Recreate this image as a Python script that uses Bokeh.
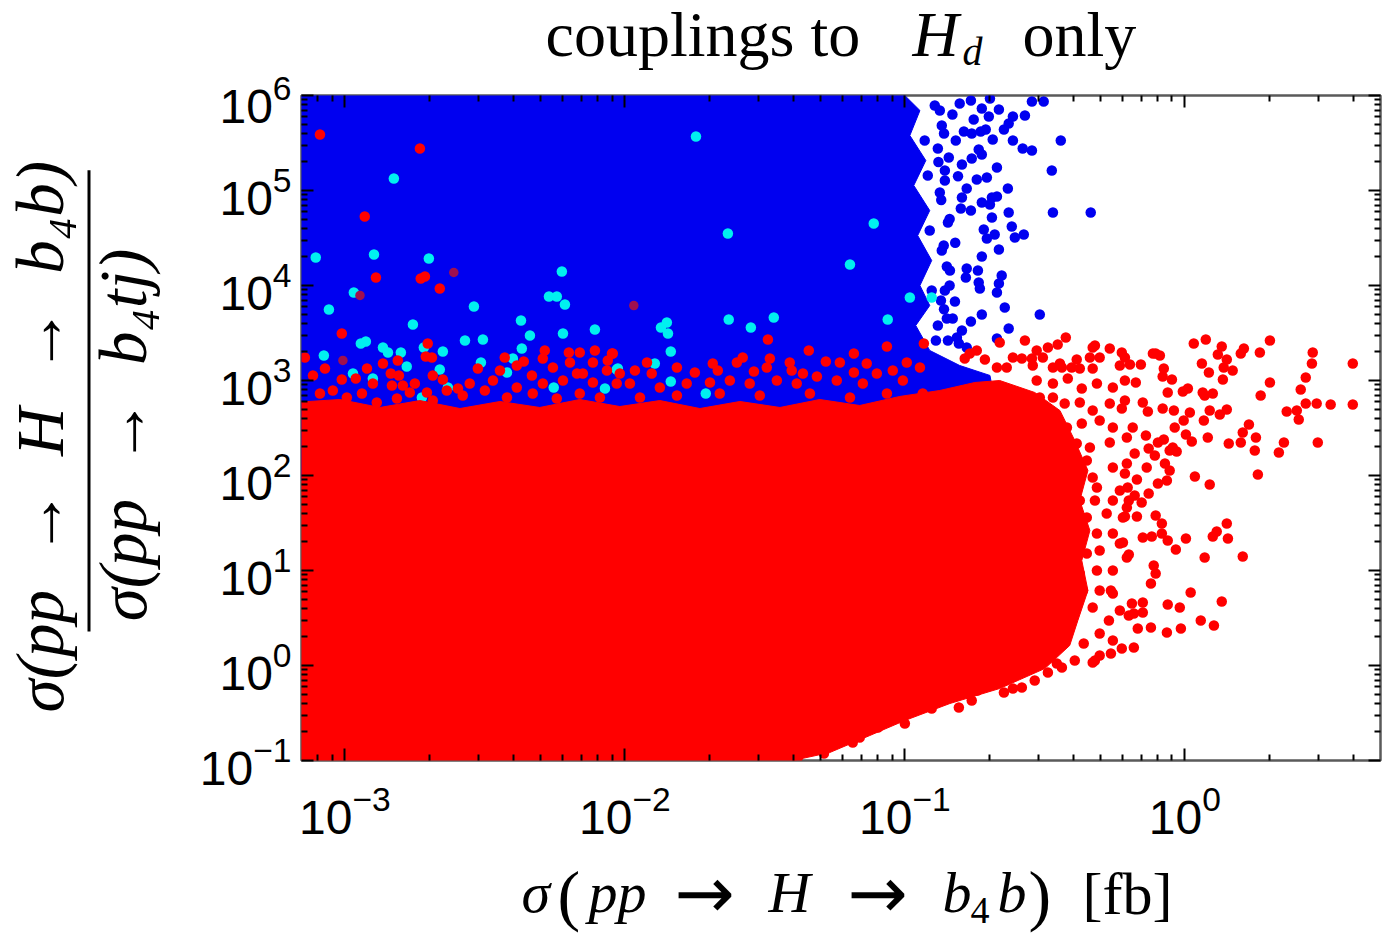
import numpy as np
from bokeh.plotting import figure
from bokeh.layouts import column, row
from bokeh.models import (Range1d, LogAxis, FixedTicker, Label, CustomJSTickFormatter)
from bokeh.embed import file_html
from bokeh.resources import INLINE

# ---------------- data (log10 of the plotted quantities) ----------------
x_limits = (7e-4, 5.0)
y_limits = (1e-1, 1e6)
x_major_ticks = [1e-3, 1e-2, 1e-1, 1e0]
y_major_ticks = [1e-1, 1e0, 1e1, 1e2, 1e3, 1e4, 1e5, 1e6]
minor_multipliers = [2, 3, 4, 5, 6, 7, 8, 9]

# dense (fully covered) part of the blue cloud: outline, log10(x), log10(y)
blue_area_lx = [-3.3, -1.0, -1.0, -0.946, -0.982, -0.925, -0.968, -0.911, -0.954, -0.904,
                -0.946, -0.911, -0.961, -0.911, -0.804, -0.696, -0.679, -0.714, -0.804,
                -0.911, -3.3]
blue_area_ly = [6.2, 6.2, 6.0, 5.842, 5.579, 5.316, 5.053, 4.789, 4.526, 4.263,
                4.0, 3.789, 3.579, 3.316, 3.158, 3.053, 2.789, 2.474, 2.158,
                1.947, 1.947]

# dense part of the red cloud: outline
red_area_lx = [-3.3, -3.018, -2.875, -2.732, -2.589, -2.446, -2.304, -2.161, -2.018, -1.875,
               -1.732, -1.589, -1.446, -1.304, -1.161, -1.018, -0.875, -0.75, -0.661,
               -0.536, -0.446, -0.393, -0.346, -0.375, -0.339, -0.368, -0.346, -0.382,
               -0.411, -0.5, -0.661, -0.839, -1.0, -1.125, -1.268, -1.40,
               -1.45, -3.3]
red_area_ly = [2.747, 2.8, 2.716, 2.789, 2.705, 2.779, 2.716, 2.8, 2.726, 2.789,
               2.705, 2.779, 2.716, 2.8, 2.737, 2.832, 2.895, 2.979, 3.0,
               2.874, 2.684, 2.368, 2.053, 1.737, 1.421, 1.105, 0.789, 0.474,
               0.211, -0.032, -0.242, -0.4, -0.579, -0.737, -0.916, -1.0,
               -1.2, -1.2]

# individual blue points outside the dense area
blue_points = [
    (-0.804, 5.916), (-0.764, 5.947), (-0.725, 5.863), (-0.696, 5.968), (-0.546, 5.937),
    (-0.504, 5.937), (-0.664, 5.853), (-0.7, 5.779), (-0.754, 5.747), (-0.789, 5.621),
    (-0.761, 5.6), (-0.729, 5.621), (-0.711, 5.642), (-0.686, 5.537), (-0.646, 5.642),
    (-0.629, 5.705), (-0.614, 5.779), (-0.571, 5.789), (-0.614, 5.526), (-0.579, 5.442),
    (-0.546, 5.421), (-0.443, 5.526), (-0.818, 5.526), (-0.843, 5.347), (-0.796, 5.274),
    (-0.761, 5.337), (-0.736, 5.432), (-0.725, 5.379), (-0.671, 5.242), (-0.475, 5.211),
    (-0.743, 5.116), (-0.707, 5.137), (-0.632, 5.021), (-0.779, 5.021), (-0.796, 4.926),
    (-0.689, 4.926), (-0.671, 4.937), (-0.725, 4.874), (-0.696, 4.853), (-0.8, 4.811),
    (-0.764, 4.789), (-0.629, 4.768), (-0.471, 4.768), (-0.336, 4.768), (-0.689, 4.716),
    (-0.718, 4.589), (-0.679, 4.537), (-0.707, 4.495), (-0.664, 4.379), (-0.618, 4.621),
    (-0.607, 4.505), (-0.575, 4.537), (-0.725, 4.305), (-0.739, 4.158), (-0.779, 4.179),
    (-0.782, 4.084), (-0.654, 4.105), (-0.664, 4.021), (-0.671, 3.926), (-0.736, 4.032),
    (-0.732, 3.968), (-0.821, 3.832), (-0.643, 3.768), (-0.725, 3.695), (-0.764, 3.621),
    (-0.796, 3.526), (-0.629, 3.547), (-0.518, 3.695), (-0.671, 3.442), (-0.829, 3.653),
    (-0.807, 3.389), (-0.779, 3.347), (-0.814, 3.453), (-0.846, 3.421), (-0.875, 5.842),
    (-0.857, 5.105), (-0.868, 4.368), (-0.857, 3.947), (-0.882, 3.579), (-0.86, 5.6),
    (-0.84, 4.7), (-0.85, 4.2), (-0.83, 5.8), (-0.88, 5.3), (-0.87, 4.9), (-0.86, 3.75),
    (-0.82, 4.45), (-0.84, 4.0), (-0.81, 5.15),
    (-0.893, 5.895), (-0.868, 5.684), (-0.882, 5.442), (-0.857, 5.211), (-0.875, 4.979),
    (-0.846, 4.663), (-0.861, 4.421), (-0.839, 4.158), (-0.871, 3.842), (-0.85, 3.653),
    (-0.889, 3.421), (-0.929, 5.526), (-0.918, 5.158), (-0.911, 4.579), (-0.904, 3.947),
]

cyan_points = [
    (-2.825, 5.126), (-3.104, 4.295), (-2.896, 4.326), (-2.7, 4.284), (-2.968, 3.926),
    (-3.057, 3.747), (-2.539, 3.779), (-2.225, 4.147), (-2.271, 3.884), (-2.243, 3.884),
    (-2.214, 3.8), (-2.757, 3.589), (-2.371, 3.632), (-2.571, 3.421), (-2.507, 3.432),
    (-2.339, 3.474), (-2.221, 3.495), (-2.107, 3.537), (-1.871, 3.558), (-1.85, 3.611),
    (-1.846, 3.495), (-1.836, 3.305), (-2.65, 3.305), (-2.368, 3.337), (-2.943, 3.389),
    (-2.925, 3.411), (-2.864, 3.347), (-2.846, 3.295), (-2.8, 3.295), (-3.075, 3.263),
    (-2.718, 3.347), (-1.746, 5.568), (-2.514, 3.189), (-2.779, 3.147), (-2.4, 3.232),
    (-1.632, 4.547), (-1.111, 4.653), (-1.196, 4.221), (-1.629, 3.642), (-1.55, 3.558),
    (-1.468, 3.663), (-1.061, 3.642), (-0.982, 3.874), (-0.904, 3.874), (-1.711, 2.863),
    (-2.971, 3.074), (-2.9, 3.021), (-2.661, 3.116), (-2.029, 3.116), (-2.421, 3.084),
    (-2.632, 2.926), (-2.725, 2.821), (-2.254, 2.926), (-2.071, 2.916), (-1.893, 3.179),
    (-2.025, 3.126), (-1.836, 2.989),
]

dark_red_points = [(-2.611, 4.137), (-2.946, 3.895), (-1.968, 3.789), (-3.007, 3.211)]

red_points = [
    # isolated red points inside the blue cloud
    (-3.089, 5.589), (-2.732, 5.442), (-2.929, 4.726), (-2.889, 4.084), (-2.729, 4.074),
    (-2.714, 4.095), (-2.661, 3.968), (-3.011, 3.495), (-2.704, 3.389), (-2.711, 3.253),
    (-2.689, 3.242), (-1.489, 3.432), (-1.343, 3.316), (-0.932, 3.389),
    # upper fringe of the red cloud
    (-3.143, 3.242), (-3.114, 3.053), (-3.071, 3.126), (-2.921, 3.126), (-2.864, 3.179),
    (-2.811, 3.211), (-2.836, 3.074), (-2.807, 3.053), (-3.011, 3.011), (-2.961, 3.021),
    (-2.9, 2.968), (-2.832, 2.947), (-2.793, 2.947), (-2.75, 2.968), (-2.686, 3.053),
    (-2.65, 3.011), (-2.596, 2.916), (-2.554, 2.968), (-2.525, 3.126), (-2.446, 3.105),
    (-2.429, 3.242), (-2.386, 3.158), (-2.361, 3.2), (-2.332, 3.053), (-2.286, 3.316),
    (-2.293, 3.232), (-2.257, 3.137), (-2.2, 3.295), (-2.196, 3.189), (-2.161, 3.295),
    (-2.107, 3.316), (-2.114, 3.189), (-2.046, 3.284), (-2.061, 3.211), (-2.171, 3.074),
    (-2.15, 3.074), (-2.064, 3.105), (-2.471, 3.0), (-2.386, 2.926), (-2.293, 2.968),
    (-2.221, 3.0), (-2.114, 2.979), (-3.089, 2.863), (-3.043, 2.895), (-2.993, 2.821),
    (-2.939, 2.863), (-2.886, 2.768), (-2.814, 2.811), (-2.768, 2.874), (-2.707, 2.874),
    (-2.686, 2.789), (-2.636, 2.895), (-2.579, 2.842), (-2.5, 2.895), (-2.421, 2.821),
    (-2.329, 2.863), (-2.243, 2.811), (-2.161, 2.863), (-2.089, 2.821), (-2.029, 2.968),
    (-1.064, 3.358), (-2.043, 3.284), (-2.018, 3.074), (-1.964, 3.105), (-1.921, 3.189),
    (-1.904, 3.074), (-1.814, 3.137), (-1.75, 3.084), (-1.686, 3.179), (-1.668, 3.105),
    (-1.6, 3.189), (-1.579, 3.242), (-1.539, 3.095), (-1.482, 3.232), (-1.493, 3.137),
    (-1.411, 3.189), (-1.404, 3.105), (-1.364, 3.074), (-1.282, 3.2), (-1.232, 3.189),
    (-1.182, 3.284), (-1.182, 3.084), (-1.136, 3.179), (-1.1, 3.074), (-1.043, 3.105),
    (-0.993, 3.189), (-0.946, 3.137), (-1.314, 3.042), (-1.243, 3.0), (-1.15, 2.968),
    (-1.007, 3.0), (-0.936, 2.863), (-1.982, 2.968), (-1.875, 2.926), (-1.779, 2.968),
    (-1.696, 2.979), (-1.625, 3.0), (-1.554, 2.968), (-1.457, 3.0), (-1.386, 2.968),
    (-1.946, 2.821), (-1.814, 2.842), (-1.661, 2.863), (-1.518, 2.842), (-1.339, 2.863),
    (-1.196, 2.821), (-1.064, 2.863),
    # scattered tail at large cross section
    (-0.661, 3.4), (-0.571, 3.421), (-0.425, 3.453), (-0.454, 3.379), (-0.489, 3.347),
    (-0.529, 3.316), (-0.507, 3.242), (-0.329, 3.347), (-0.268, 3.337), (-0.225, 3.295),
    (-0.743, 3.316), (-0.768, 3.284), (-0.786, 3.232), (-0.714, 3.221), (-0.614, 3.242),
    (-0.582, 3.232), (-0.546, 3.232), (-0.386, 3.221), (-0.339, 3.242), (-0.304, 3.242),
    (-0.214, 3.242), (-0.404, 3.137), (-0.446, 3.179), (-0.471, 3.137), (-0.636, 3.137),
    (-0.671, 3.137), (-0.375, 3.126), (-0.321, 3.368), (-0.104, 3.284),
    (-0.543, 3.158), (-0.439, 3.137), (-0.329, 3.126), (-0.232, 3.158), (-0.529, 3.0),
    (-0.471, 2.968), (-0.418, 3.021), (-0.368, 2.916), (-0.314, 2.968), (-0.257, 2.926),
    (-0.214, 3.0), (-0.518, 2.821), (-0.471, 2.821), (-0.429, 2.758), (-0.375, 2.768),
    (-0.329, 2.684), (-0.268, 2.758), (-0.225, 2.705), (-0.518, 2.653), (-0.471, 2.6),
    (-0.421, 2.505), (-0.368, 2.547), (-0.304, 2.579), (-0.257, 2.505), (-0.207, 2.4),
    (-0.507, 2.442), (-0.446, 2.368), (-0.386, 2.337), (-0.339, 2.295), (-0.268, 2.347),
    (-0.529, 2.263), (-0.471, 2.189), (-0.411, 2.158), (-0.35, 2.158), (-0.257, 2.084),
    (-0.214, 2.021), (-0.507, 2.053), (-0.446, 1.979), (-0.4, 1.916), (-0.329, 1.979),
    (-0.314, 1.874), (-0.232, 1.842), (-0.493, 1.874), (-0.446, 1.768), (-0.375, 1.737),
    (-0.321, 1.737), (-0.257, 1.737), (-0.207, 1.663), (-0.471, 1.632), (-0.411, 1.6),
    (-0.35, 1.558), (-0.279, 1.6), (-0.221, 1.558), (-0.493, 1.453), (-0.421, 1.453),
    (-0.375, 1.347), (-0.314, 1.389), (-0.257, 1.389), (-0.232, 1.284), (-0.457, 1.242),
    (-0.4, 1.211), (-0.35, 1.179), (-0.304, 1.211), (-0.446, 1.032), (-0.375, 0.968),
    (-0.314, 1.0), (-0.257, 1.0), (-0.421, 0.863), (-0.364, 0.789), (-0.304, 0.789),
    (-0.257, 0.758), (-0.4, 0.684), (-0.329, 0.611), (-0.207, 1.137),
    (0.032, 3.389), (0.075, 3.432), (0.132, 3.358), (0.061, 3.179), (0.086, 3.084),
    (0.118, 3.274), (0.15, 3.221), (0.139, 3.137), (0.171, 3.105), (0.136, 3.011),
    (0.2, 3.284), (0.211, 3.337), (0.268, 3.295), (0.304, 3.421), (0.457, 3.295),
    (0.454, 3.179), (0.6, 3.179), (0.432, 3.032), (0.304, 2.979), (0.414, 2.905),
    (0.271, 2.842), (0.432, 2.758), (0.471, 2.758), (0.521, 2.747), (0.6, 2.747),
    (0.364, 2.674), (0.4, 2.684), (0.407, 2.589), (0.475, 2.347), (0.354, 2.347),
    (0.336, 2.242), (0.25, 2.263), (0.254, 2.4), (0.229, 2.537), (0.207, 2.453),
    (0.2, 2.347), (0.157, 2.337), (0.261, 2.011), (0.15, 2.695), (0.125, 2.642),
    (0.089, 2.684), (0.068, 2.579), (0.082, 2.4), (0.071, 2.842), (0.1, 2.863),
    (0.064, 2.874), (0.025, 2.358), (0.036, 1.989), (0.089, 1.905), (0.15, 1.495),
    (0.114, 1.411), (0.1, 1.358), (0.154, 1.337), (0.207, 1.147), (0.071, 1.137),
    (0.004, 1.337), (-0.032, 1.221), (0.021, 0.768), (0.132, 0.674), (-0.018, 0.611),
    (-0.061, 0.642), (0.057, 0.474), (0.011, 2.916), (-0.007, 2.884), (-0.061, 2.874),
    (-0.046, 3.011), (-0.079, 3.042), (-0.114, 3.284), (-0.089, 3.263), (-0.075, 3.126),
    (-0.157, 3.168), (-0.196, 3.168), (-0.175, 2.979), (-0.15, 2.768), (-0.214, 2.789),
    (-0.132, 2.674), (-0.079, 2.705), (-0.039, 2.684), (-0.004, 2.579), (0.018, 2.663),
    (-0.036, 2.505), (0.004, 2.432), (-0.075, 2.379), (-0.096, 2.347), (-0.139, 2.421),
    (-0.186, 2.505), (-0.129, 2.284), (-0.179, 2.232), (-0.043, 2.295), (-0.029, 2.253),
    (-0.054, 2.263), (-0.107, 2.211), (-0.071, 2.126), (-0.054, 2.053), (-0.136, 2.084),
    (-0.207, 2.126), (-0.171, 1.958), (-0.096, 1.916), (-0.064, 1.947), (-0.204, 1.874),
    (-0.129, 1.811), (-0.179, 1.789), (-0.154, 1.716), (-0.2, 1.737), (-0.214, 1.568),
    (-0.171, 1.568), (-0.104, 1.579), (-0.082, 1.495), (-0.082, 1.389), (-0.118, 1.358),
    (-0.15, 1.347), (-0.061, 1.316), (-0.221, 1.295), (-0.2, 1.168), (-0.111, 1.053),
    (-0.104, 0.968), (-0.121, 0.863), (-0.189, 0.653), (-0.15, 0.663), (-0.15, 0.558),
    (-0.2, 0.526),
    # lower-right edge of the red cloud
    (-0.329, 0.032), (-0.264, 0.126), (-0.225, 0.179), (-0.182, 0.189), (-0.168, 0.389),
    (-0.121, 0.4), (-0.064, 0.347), (-0.014, 0.389), (0.104, 0.421), (-0.182, 0.547),
    (-0.232, 0.579), (-0.271, 0.474), (-0.304, 0.337), (-0.361, 0.232), (-0.264, 0.789),
    (-0.646, -0.284), (-0.582, -0.232), (-0.536, -0.158), (-0.489, -0.074), (-0.439, -0.021),
    (-0.393, 0.053), (-0.321, 0.053), (-0.761, -0.368), (-0.807, -0.442), (-0.904, -0.453),
    (-1.0, -0.611), (-1.096, -0.653), (-1.161, -0.758), (-1.289, -0.926), (-1.382, -0.968),
    (-0.457, 0.021), (-0.304, 0.105), (-0.257, 0.263), (-0.741, -0.263), (-0.614, -0.242),
    (-0.946, -0.453), (-1.186, -0.811), (-1.089, -0.632),
]

# texts
title_pieces = [("couplings to", "normal"), ("H", "italic"), ("d", "italic"), ("only", "normal")]
xlabel_pieces = ["σ", "(", "pp", "→", "H", "→", "b", "4", "b", ")", "[fb]"]
ylabel_numerator = "σ(pp\u2002→\u2002H\u2002→\u2002b\u2084b)"
ylabel_denominator = "σ(pp\u2002→\u2002b\u2084tj)"

BLUE = "#0000F0"
RED = "#FF0000"
CYAN = "#00F0F0"
DARK_RED = "#A0104E"
SERIF = "Liberation Serif"
ARROW_FONT = "DejaVu Sans"
POINT_SIZE = 10.5


def unzip_log(pairs):
    lx, ly = zip(*pairs)
    return 10.0 ** np.array(lx), 10.0 ** np.array(ly)


def minor_ticks(lo, hi):
    out = []
    for d in range(-5, 7):
        for m in minor_multipliers:
            v = m * 10.0 ** d
            if lo < v < hi:
                out.append(v)
    return out


# ---------------- main plot ----------------
p = figure(x_axis_type="log", y_axis_type="log",
           x_range=Range1d(*x_limits), y_range=Range1d(*y_limits),
           frame_width=1079, frame_height=665,
           min_border_left=121, min_border_right=9, min_border_top=19, min_border_bottom=90,
           output_backend="svg", toolbar_location=None, title=None,
           background_fill_color="white", border_fill_color="white")
p.grid.visible = False
p.outline_line_color = "#5a5a5a"
p.outline_line_width = 2.5

bottom_axis = p.below[0]
left_axis = p.left[0]

p.patch(10.0 ** np.array(blue_area_lx), 10.0 ** np.array(blue_area_ly),
        fill_color=BLUE, line_color=BLUE, line_width=1)
bx, by = unzip_log(blue_points)
p.scatter(bx, by, size=POINT_SIZE, fill_color=BLUE, line_color=None)
cx, cy = unzip_log(cyan_points)
p.scatter(cx, cy, size=POINT_SIZE, fill_color=CYAN, line_color=None)
p.patch(10.0 ** np.array(red_area_lx), 10.0 ** np.array(red_area_ly),
        fill_color=RED, line_color=RED, line_width=1)
rx, ry = unzip_log(red_points)
p.scatter(rx, ry, size=POINT_SIZE, fill_color=RED, line_color=None)
dx, dy = unzip_log(dark_red_points)
p.scatter(dx, dy, size=POINT_SIZE - 1, fill_color=DARK_RED, line_color=None)

x_ticker = FixedTicker(ticks=x_major_ticks, minor_ticks=minor_ticks(*x_limits))
y_ticker = FixedTicker(ticks=y_major_ticks, minor_ticks=minor_ticks(*y_limits))

top_axis = LogAxis(formatter=CustomJSTickFormatter(code="return ''"))
right_axis = LogAxis(formatter=CustomJSTickFormatter(code="return ''"))
p.add_layout(top_axis, "above")
p.add_layout(right_axis, "right")

for ax, tk in [(bottom_axis, x_ticker), (top_axis, x_ticker),
               (left_axis, y_ticker), (right_axis, y_ticker)]:
    ax.ticker = tk
    ax.axis_line_color = None
    ax.major_tick_in = 12
    ax.major_tick_out = 0
    ax.minor_tick_in = 6
    ax.minor_tick_out = 0
    ax.major_tick_line_width = 2
    ax.minor_tick_line_width = 2
    ax.major_tick_line_color = "black"
    ax.minor_tick_line_color = "black"

for ax in (top_axis, right_axis):
    ax.major_label_standoff = 0
    ax.major_label_text_font_size = "0px"

for ax, standoff in [(bottom_axis, 24), (left_axis, 10)]:
    ax.major_label_text_font = "Liberation Sans"
    ax.major_label_text_font_size = "48px"
    ax.major_label_text_color = "black"
    ax.major_label_standoff = standoff


# ---------------- text panels ----------------
def text_panel(w, h):
    f = figure(width=w, height=h, x_range=Range1d(0, w), y_range=Range1d(0, h),
               min_border=0, x_axis_location=None, y_axis_location=None,
               toolbar_location=None, output_backend="svg", title=None,
               background_fill_color="white", border_fill_color="white")
    f.grid.visible = False
    f.outline_line_color = None
    return f


BASELINE_FIX = 0.4  # measured offset of the rendered alphabetic baseline, in em


def put(f, text, x, y, size, style="normal", angle=0.0, align="left", font=SERIF):
    # shift against the measured baseline offset (perpendicular to the text direction)
    shift = BASELINE_FIX * size
    x2 = x - shift * np.sin(angle)
    y2 = y + shift * np.cos(angle)
    f.add_layout(Label(x=x2, y=y2, text=text, text_font=font,
                       text_font_size=f"{size}px", text_font_style=style,
                       text_color="black", text_align=align,
                       text_baseline="alphabetic", angle=angle))


# title panel (height 76): baselines at page y 60 (subscript d at 67)
tf = text_panel(1389, 76)
title_pos = [(545, 16, 64), (912, 16, 64), (962, 9, 40), (1022, 16, 64)]
for (txt, style), (x, y, s) in zip(title_pieces, title_pos):
    put(tf, txt, x, y, s, style)

# y-label panel (fraction, rotated); panel spans page y 76..850
yf = text_panel(180, 774)
put(yf, ylabel_numerator, 66, 56, 67, "italic", angle=np.pi / 2)
put(yf, ylabel_denominator, 149, 162, 67, "italic", angle=np.pi / 2)
yf.segment(x0=[88.5], y0=[150], x1=[88.5], y1=[687], line_color="black", line_width=3)

# x-label panel (height 95), starts at page y 850
xf = text_panel(1389, 95)
xlabel_layout = [(521, 30, 58, "italic", SERIF), (557, 23, 68, "normal", SERIF),
                 (588, 30, 58, "italic", SERIF), (674, 24, 72, "normal", ARROW_FONT),
                 (768, 30, 58, "italic", SERIF), (847, 24, 72, "normal", ARROW_FONT),
                 (942, 30, 58, "italic", SERIF), (970, 20, 38, "normal", SERIF),
                 (997, 30, 58, "italic", SERIF), (1028, 23, 68, "normal", SERIF),
                 (1082, 28, 60, "normal", SERIF)]
for txt, (x, y, s, style, font) in zip(xlabel_pieces, xlabel_layout):
    put(xf, txt, x, y, s, style, font=font)

layout = column(tf, row(yf, p), xf)
open("out.html", "w").write(file_html(layout, INLINE))
